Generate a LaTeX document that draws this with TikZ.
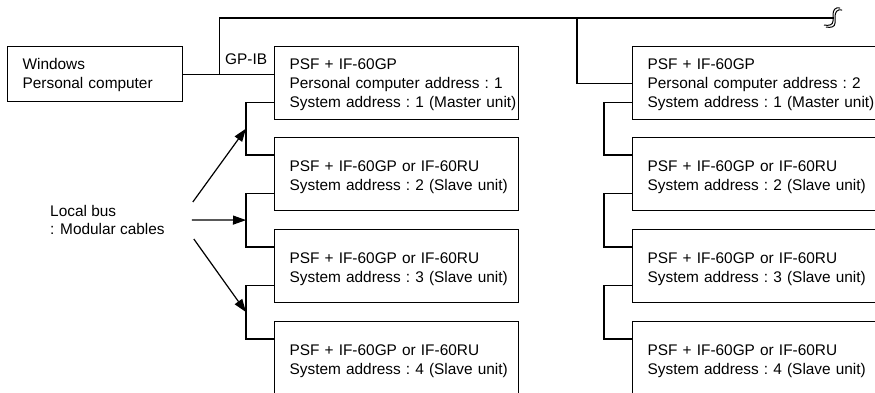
\documentclass[tikz,border=0pt]{standalone}
\usepackage{fontspec}
\setmainfont{Liberation Sans}
\usepackage{tikz}
\usetikzlibrary{arrows.meta,calc}
\tikzset{>={Triangle[length=13pt,width=9pt]}}
\tikzset{
  wire/.style={line width=1.2pt},
  unit/.style={draw,line width=1.2pt,anchor=north west,align=left,inner xsep=0pt,
    minimum height=73pt,text height=11pt,text depth=17pt,
    execute at begin node={\leftskip=15pt\relax}},
  master/.style={unit,text depth=38pt},
}
\newcommand{\busbreak}{%
  \draw[line width=1pt] (842,10) .. controls (837,9) and (835,12) .. (835,17) -- (835,23)
    .. controls (835,27) and (831,28) .. (826,27);
  \draw[line width=1pt] (840,8) .. controls (835,7) and (833,10) .. (833,15) -- (833,21)
    .. controls (833,25) and (829,26) .. (824,25);
}

\begin{document}
\begin{tikzpicture}[x=1pt,y=-1pt,font=\fontsize{15.4}{19}\selectfont\frenchspacing]
\useasboundingbox (0,0) rectangle (875,392);
\node[unit,text width=175pt,minimum height=55pt,text depth=21pt] (pc) at (7,46) {Windows\\Personal computer};
\node[anchor=base west,inner sep=0pt] (gpib) at (225,64) {GP-IB};
\node[master,text width=244pt] (ma) at (274,46) {PSF + IF-60GP\\Personal computer address : 1\\System address : 1 (Master unit)};
\node[master,text width=250pt] (mb) at (632,46) {PSF + IF-60GP\\Personal computer address : 2\\System address : 1 (Master unit)};
\foreach \n/\y in {2/137,3/229,4/321}{
  \node[unit,text width=244pt] (sa\n) at (274,\y) {PSF + IF-60GP or IF-60RU\\System address : \n\ (Slave unit)};
  \node[unit,text width=250pt] (sb\n) at (632,\y) {PSF + IF-60GP or IF-60RU\\System address : \n\ (Slave unit)};
}
% GP-IB bus
\coordinate (tap) at ($(pc.east)+(36,0)$);
\coordinate (drop) at (577,18);
\coordinate (busend) at (834,18);
\draw[wire] (pc.east) -- (pc.east -| ma.west);
\draw[wire] (tap) |- (busend);
\draw[wire] (drop) |- (mb.west);
\busbreak
% local bus
\foreach \a/\b/\k in {ma/sa2/1,sa2/sa3/2,sa3/sa4/3,mb/sb2/4,sb2/sb3/5,sb3/sb4/6}{
  \draw[wire] ($(\a.south west)+(0,-18)$) -- ++(-28,0) |- ($(\b.north west)+(0,18)$);
  \coordinate (j\k) at ($(\a.south west)!.5!(\b.north west)+(-28,0)$);
}
\node[anchor=west,align=left,inner sep=0pt,font=\fontsize{15.4}{17.6}\selectfont] (lbus) at (50,220) {Local bus\\: Modular cables};
\draw[wire,->] ($(lbus.east)+(28,-18)$) -- (j1);
\draw[wire,->] ($(lbus.east)+(27,0)$) -- (j2);
\draw[wire,->] ($(lbus.east)+(29,19)$) -- (j3);
\end{tikzpicture}
\end{document}
